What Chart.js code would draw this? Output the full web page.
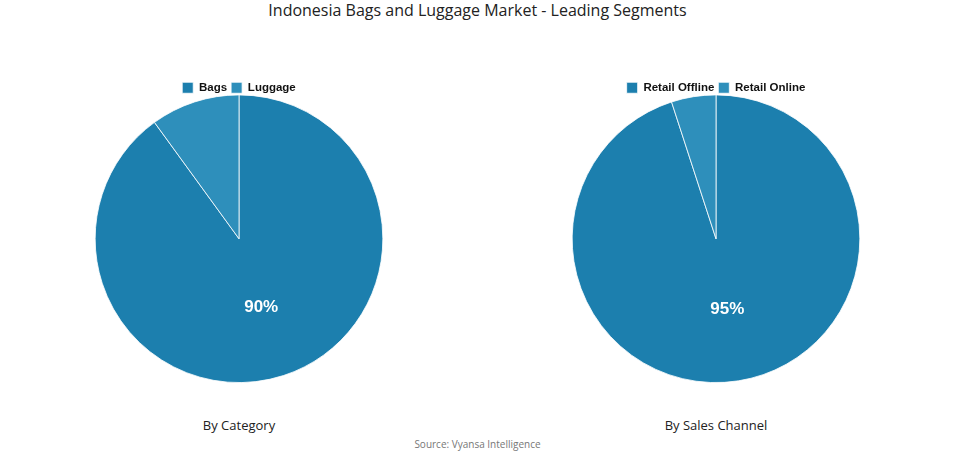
<!DOCTYPE html>
<html>
<head>
<meta charset="utf-8">
<script src="https://cdn.jsdelivr.net/npm/chart.js@4"></script>
<style>
  body { margin: 0; background: #fff; width: 955px; height: 454px; position: relative; overflow: hidden; font-family: "Open Sans", sans-serif; }
  .title { position: absolute; top: 0; left: 0; width: 955px; text-align: center; font-size: 16px; line-height: 20px; color: #222; }
  .box { position: absolute; top: 78px; width: 478px; height: 305px; }
  .cap { position: absolute; top: 416px; width: 478px; text-align: center; font-size: 13px; color: #222; }
  .src { position: absolute; top: 437px; left: 0; width: 955px; text-align: center; font-size: 10px; color: #777; }
</style>
</head>
<body>
<div class="title">Indonesia Bags and Luggage Market - Leading Segments</div>
<div class="box" style="left:0"><canvas id="pie1"></canvas></div>
<div class="box" style="left:477px"><canvas id="pie2"></canvas></div>
<div class="cap" style="left:0">By Category</div>
<div class="cap" style="left:477px">By Sales Channel</div>
<div class="src">Source: Vyansa Intelligence</div>
<script>
// data
const categoryLabels = ['Bags', 'Luggage'];
const categoryValues = [90, 10];
const channelLabels = ['Retail Offline', 'Retail Online'];
const channelValues = [95, 5];
const sliceColors = ['#1c7fae', '#2e8fbb'];

// percent text in the big slices
const pctLabels = {
    id: 'pctLabels',
    afterDatasetsDraw(chart) {
        const ctx = chart.ctx;
        const meta = chart.getDatasetMeta(0);
        const vals = chart.data.datasets[0].data;
        const total = vals.reduce((a, b) => a + b, 0);
        meta.data.forEach(function(arc, i) {
            const pct = vals[i] / total * 100;
            if (pct < 15) return;
            const mid = (arc.startAngle + arc.endAngle) / 2;
            const r = arc.outerRadius / 2;
            ctx.save();
            ctx.fillStyle = '#fff';
            ctx.font = 'bold 17px "Liberation Sans", Arial, sans-serif';
            ctx.textAlign = 'center';
            ctx.textBaseline = 'middle';
            ctx.fillText(Math.round(pct) + '%', arc.x + Math.cos(mid) * r, arc.y + Math.sin(mid) * r);
            ctx.restore();
        });
    }
};

// pull the pie closer to the legend
const tightLegend = {
    id: 'tightLegend',
    beforeInit(chart) {
        const fit = chart.legend.fit;
        chart.legend.fit = function() {
            fit.call(this);
            this.height -= 9;
        };
    }
};

function makePie(id, labels, values) {
    return new Chart(document.getElementById(id), {
        type: 'pie',
        data: {
            labels: labels,
            datasets: [{
                data: values,
                backgroundColor: sliceColors,
                borderColor: '#ffffff',
                borderWidth: 0.8
            }]
        },
        options: {
            responsive: true,
            maintainAspectRatio: false,
            animation: false,
            plugins: {
                legend: {
                    position: 'top',
                    labels: {
                        boxWidth: 11,
                        boxHeight: 11,
                        padding: 4,
                        color: '#111',
                        font: { family: '"Liberation Sans", Arial, sans-serif', size: 11.5, weight: 'bold' }
                    }
                },
                tooltip: { enabled: false }
            }
        },
        plugins: [pctLabels, tightLegend]
    });
}

makePie('pie1', categoryLabels, categoryValues);
makePie('pie2', channelLabels, channelValues);
</script>
</body>
</html>
